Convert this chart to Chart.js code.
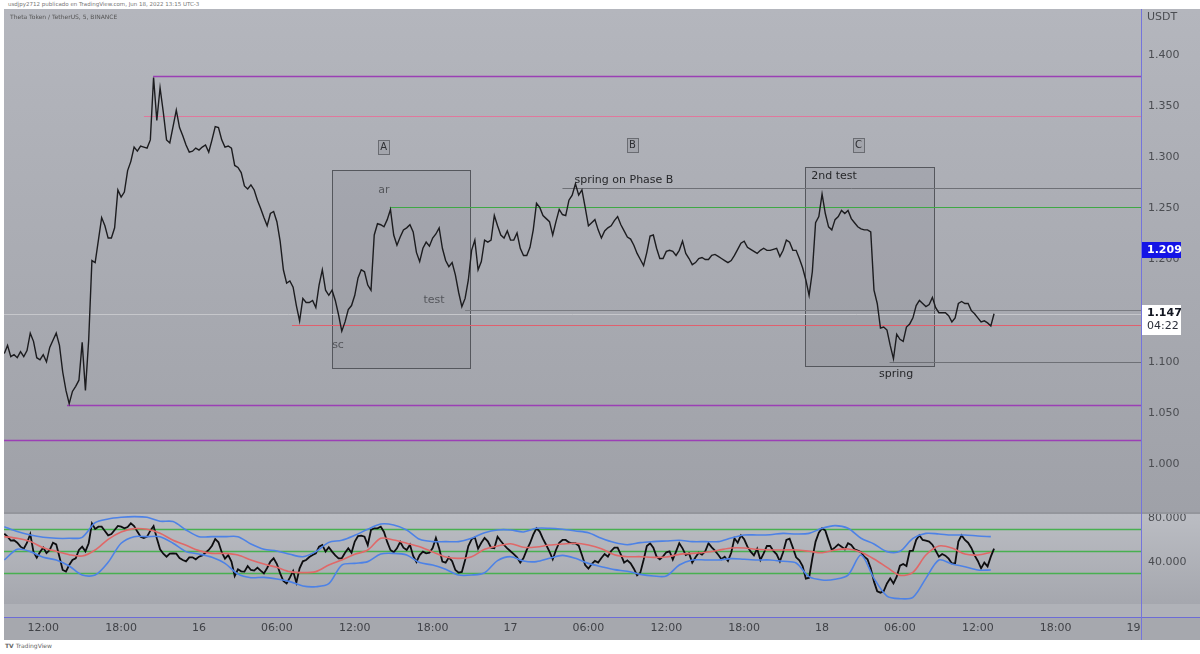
<!DOCTYPE html>
<html>
<head>
<meta charset="utf-8">
<script src="https://cdn.jsdelivr.net/npm/chart.js@4.4.1/dist/chart.umd.min.js"></script>
<style>
  body { margin: 0; width: 1200px; height: 654px; overflow: hidden; background: #fff; font-family: "DejaVu Sans", sans-serif; }
  .abs { position: absolute; }
  #top { left: 8px; top: 1px; font-size: 5.5px; color: #777; }
  #mainBg { left: 4px; top: 9px; width: 1196px; height: 503px; background: linear-gradient(#b4b6bd, #9fa1a8); }
  #sep { left: 4px; top: 512px; width: 1196px; height: 2px; background: #94969c; }
  #rsiBg { left: 4px; top: 514px; width: 1196px; height: 90px; background: linear-gradient(#bbbdc3, #a5a7ae); }
  #strip { left: 4px; top: 604px; width: 1196px; height: 13px; background: #b0b2b8; }
  #timeBg { left: 4px; top: 617px; width: 1196px; height: 23px; background: #a6a8ae; border-top: 1px solid #6c6cd6; box-sizing: border-box; }
  #vline { left: 1141px; top: 9px; width: 1px; height: 631px; background: #7474dc; }
  #symbol { left: 10px; top: 13px; font-size: 6px; color: #555; }
  #usdt { left: 1147px; top: 10px; font-size: 11px; color: #4b4d52; }
  #logo { left: 5px; top: 642px; font-size: 6px; color: #666; }
  canvas { position: absolute; }
</style>
</head>
<body>
<div id="top" class="abs">usdjpy2712 publicado en TradingView.com, Jun 18, 2022 13:15 UTC-3</div>
<div id="mainBg" class="abs"></div>
<div id="sep" class="abs"></div>
<div id="rsiBg" class="abs"></div>
<div id="strip" class="abs"></div>
<div id="timeBg" class="abs"></div>
<canvas id="main" width="1196" height="503" style="left:4px;top:9px"></canvas>
<canvas id="rsi" width="1196" height="126" style="left:4px;top:514px"></canvas>
<div id="vline" class="abs"></div>
<div id="symbol" class="abs">Theta Token / TetherUS, 5, BINANCE</div>
<div id="usdt" class="abs">USDT</div>
<div id="logo" class="abs"><b>TV</b> TradingView</div>
<script>
// hours counted from Jun 15 00:00, one value every 15 minutes from 09:00
const startHour = 9
const stepHours = 0.25

const closes = [
  1.108, 1.116, 1.105, 1.107, 1.104, 1.110, 1.105, 1.111, 1.128, 1.120,
  1.104, 1.102, 1.107, 1.100, 1.114, 1.121, 1.128, 1.116, 1.090, 1.072,
  1.059, 1.071, 1.076, 1.082, 1.119, 1.072, 1.121, 1.199, 1.197, 1.219,
  1.241, 1.233, 1.221, 1.221, 1.231, 1.268, 1.261, 1.266, 1.287, 1.296,
  1.310, 1.306, 1.311, 1.310, 1.309, 1.317, 1.378, 1.336, 1.368, 1.344,
  1.317, 1.314, 1.330, 1.346, 1.329, 1.321, 1.312, 1.305, 1.306, 1.309,
  1.307, 1.310, 1.312, 1.305, 1.317, 1.330, 1.329, 1.317, 1.310, 1.311,
  1.309, 1.292, 1.290, 1.285, 1.272, 1.269, 1.273, 1.268, 1.258, 1.250,
  1.241, 1.233, 1.245, 1.247, 1.237, 1.218, 1.190, 1.177, 1.179, 1.173,
  1.155, 1.140, 1.162, 1.158, 1.158, 1.160, 1.153, 1.175, 1.190, 1.170,
  1.165, 1.170, 1.160, 1.146, 1.130, 1.139, 1.151, 1.155, 1.165, 1.182,
  1.190, 1.188, 1.175, 1.170, 1.224, 1.235, 1.234, 1.232, 1.239, 1.249,
  1.224, 1.214, 1.222, 1.229, 1.231, 1.234, 1.227, 1.207, 1.198, 1.211,
  1.217, 1.213, 1.221, 1.225, 1.231, 1.211, 1.199, 1.193, 1.197, 1.185,
  1.168, 1.154, 1.162, 1.180, 1.209, 1.219, 1.190, 1.198, 1.219, 1.217,
  1.219, 1.243, 1.233, 1.224, 1.221, 1.228, 1.219, 1.219, 1.226, 1.211,
  1.204, 1.204, 1.212, 1.229, 1.255, 1.251, 1.243, 1.240, 1.237, 1.224,
  1.237, 1.249, 1.244, 1.243, 1.258, 1.263, 1.274, 1.263, 1.268, 1.251,
  1.233, 1.236, 1.239, 1.229, 1.221, 1.228, 1.231, 1.233, 1.238, 1.242,
  1.234, 1.228, 1.222, 1.220, 1.214, 1.206, 1.200, 1.194, 1.207, 1.223,
  1.224, 1.211, 1.201, 1.201, 1.208, 1.209, 1.208, 1.204, 1.209, 1.218,
  1.206, 1.201, 1.195, 1.197, 1.201, 1.202, 1.200, 1.200, 1.204, 1.205,
  1.203, 1.201, 1.199, 1.197, 1.199, 1.204, 1.210, 1.216, 1.218, 1.212,
  1.210, 1.208, 1.206, 1.209, 1.211, 1.209, 1.209, 1.210, 1.211, 1.203,
  1.209, 1.219, 1.217, 1.209, 1.209, 1.201, 1.192, 1.180, 1.165, 1.188,
  1.236, 1.242, 1.264, 1.245, 1.232, 1.229, 1.239, 1.242, 1.248, 1.245,
  1.248, 1.240, 1.236, 1.232, 1.230, 1.229, 1.229, 1.227, 1.170, 1.157,
  1.133, 1.134, 1.131, 1.116, 1.103, 1.127, 1.122, 1.120, 1.134, 1.137,
  1.143, 1.155, 1.160, 1.157, 1.154, 1.156, 1.163, 1.153, 1.148, 1.148,
  1.148, 1.145, 1.139, 1.143, 1.157, 1.159, 1.157, 1.157, 1.150, 1.147,
  1.143, 1.139, 1.140, 1.138, 1.135, 1.147
]

const rsi = [
  65.7, 63.0, 59.4, 59.7, 57.5, 53.9, 52.1, 57.5, 65.4, 49.1,
  43.9, 49.1, 53.0, 48.1, 50.9, 57.5, 56.0, 44.5, 32.7, 31.2,
  37.2, 41.8, 43.3, 50.9, 53.9, 49.7, 57.0, 75.1, 70.0, 72.1,
  72.1, 68.2, 64.2, 65.4, 69.1, 72.7, 72.1, 70.6, 71.8, 75.1,
  72.7, 67.6, 63.0, 61.8, 63.0, 68.5, 72.7, 61.5, 51.5, 47.5,
  44.8, 47.5, 47.8, 47.5, 43.6, 41.8, 40.6, 44.2, 44.2, 42.4,
  44.8, 46.0, 48.4, 50.9, 54.8, 60.9, 57.9, 48.8, 43.0, 46.3,
  40.3, 27.2, 33.3, 31.5, 31.2, 36.3, 32.7, 32.1, 34.8, 32.1,
  29.6, 34.5, 40.3, 43.3, 38.1, 29.6, 22.7, 20.5, 25.7, 31.8,
  21.2, 34.2, 40.6, 41.8, 44.5, 46.3, 47.8, 53.9, 55.4, 49.4,
  53.3, 49.4, 46.0, 43.3, 43.3, 48.4, 52.4, 48.4, 58.5, 63.6,
  63.9, 63.0, 55.4, 69.1, 70.6, 70.6, 72.1, 67.3, 58.2, 50.9,
  48.8, 52.4, 58.2, 53.0, 50.9, 55.7, 45.4, 40.0, 46.3, 49.4,
  47.8, 48.4, 52.7, 61.8, 52.4, 40.3, 39.4, 44.2, 40.6, 32.7,
  30.3, 30.9, 41.8, 54.5, 60.6, 62.4, 52.1, 57.5, 61.8, 58.8,
  53.0, 52.4, 63.0, 59.1, 55.4, 52.4, 49.7, 47.2, 44.2, 39.4,
  43.6, 50.9, 57.0, 64.8, 70.6, 67.6, 60.9, 55.4, 49.4, 42.4,
  50.9, 57.5, 60.0, 60.0, 57.8, 57.0, 57.0, 54.8, 46.3, 37.2,
  33.9, 38.1, 40.9, 39.4, 43.6, 47.2, 44.8, 50.0, 53.0, 53.0,
  46.6, 39.4, 41.5, 38.7, 33.9, 27.8, 30.3, 41.8, 54.5, 57.0,
  53.0, 44.8, 42.4, 45.1, 48.8, 49.7, 42.1, 49.4, 57.0, 52.4,
  46.3, 47.8, 39.4, 44.2, 48.4, 46.6, 49.7, 57.0, 53.3, 50.3,
  46.6, 42.4, 44.8, 40.9, 48.4, 61.5, 57.5, 64.2, 60.6, 53.9,
  49.4, 46.0, 52.1, 41.8, 47.8, 54.5, 54.5, 50.0, 46.9, 40.6,
  48.8, 60.0, 61.2, 53.0, 44.2, 41.5, 36.3, 24.8, 25.7, 43.3,
  58.5, 66.6, 70.6, 68.5, 59.4, 50.9, 53.3, 56.0, 53.9, 51.5,
  57.0, 55.4, 51.5, 50.3, 48.8, 44.8, 42.4, 34.2, 22.1, 13.3,
  12.1, 13.6, 20.5, 25.1, 20.5, 26.6, 36.6, 38.1, 36.3, 50.0,
  50.3, 60.0, 64.2, 60.0, 59.4, 58.5, 55.7, 50.3, 44.8, 47.2,
  45.7, 43.0, 38.7, 38.7, 58.5, 64.2, 60.0, 57.5, 52.7, 46.0,
  40.9, 34.2, 39.4, 36.0, 44.8, 52.1
]

// hourly values of the RSI average and its bands, from 09:00 Jun 15
const rsiMa = [
  63.0, 61.5, 58.5, 53.0, 49.7, 46.6, 45.4, 50.9, 60.6, 67.3,
  70.3, 69.7, 66.0, 59.7, 55.1, 50.3, 47.8, 47.8, 46.3, 41.8,
  38.1, 35.1, 31.2, 30.3, 31.2, 37.2, 41.8, 46.9, 50.9, 61.5,
  60.0, 57.0, 53.9, 49.1, 44.5, 43.3, 44.8, 51.5, 54.5, 56.6,
  53.3, 53.6, 55.4, 56.3, 57.0, 55.4, 52.1, 46.6, 44.8, 44.8,
  44.2, 44.5, 46.9, 47.8, 48.8, 50.6, 52.7, 52.7, 51.5, 50.9,
  50.9, 50.9, 49.7, 48.4, 50.9, 51.8, 48.8, 42.7, 35.1, 27.8,
  30.6, 46.3, 54.5, 52.7, 47.2, 46.3, 48.8
]
const bandUpper = [
  72.1, 67.6, 64.5, 62.4, 61.5, 61.5, 62.4, 75.7, 79.1, 80.6,
  81.2, 80.6, 77.0, 76.7, 69.1, 63.0, 63.0, 63.0, 63.0, 56.3,
  51.5, 50.0, 47.0, 44.8, 49.4, 57.8, 59.7, 64.2, 69.7, 74.5,
  73.6, 69.1, 60.6, 58.5, 58.5, 58.5, 61.5, 66.6, 69.1, 69.1,
  67.3, 70.6, 70.6, 69.7, 68.2, 66.6, 61.5, 57.6, 55.7, 57.6,
  58.5, 59.1, 59.7, 58.5, 58.5, 58.5, 61.8, 64.5, 64.5, 64.8,
  66.0, 65.4, 66.0, 70.6, 73.0, 70.6, 61.5, 56.3, 49.4, 49.7,
  61.5, 66.0, 65.4, 64.5, 64.5, 63.6, 63.0
]
const bandLower = [
  41.8, 51.5, 49.4, 44.2, 41.8, 36.3, 28.1, 28.1, 39.7, 57.0,
  63.0, 63.0, 63.0, 57.0, 49.4, 47.2, 44.2, 38.7, 29.0, 25.7,
  26.0, 24.5, 22.1, 18.1, 17.5, 20.2, 37.2, 38.7, 40.3, 47.2,
  47.8, 46.3, 39.4, 37.2, 33.3, 28.1, 28.1, 30.2, 41.2, 44.8,
  40.9, 40.3, 43.3, 46.0, 43.3, 38.7, 35.7, 33.0, 31.5, 28.7,
  27.2, 27.2, 37.2, 41.8, 41.8, 41.8, 43.0, 42.4, 41.8, 41.8,
  40.6, 39.1, 26.6, 23.6, 24.2, 28.1, 46.3, 25.1, 9.0, 6.6,
  7.8, 25.1, 41.8, 38.1, 35.7, 32.7, 32.7
]

const priceTicks = [1.000, 1.050, 1.100, 1.150, 1.200, 1.250, 1.300, 1.350, 1.400]
const rsiTicks = [40, 80]
const rsiLevels = [70, 50, 30]
const timeTickHours = [12, 18, 24, 30, 36, 42, 48, 54, 60, 66, 72, 78, 84, 90, 96]
const timeTickLabels = ['12:00', '18:00', '16', '06:00', '12:00', '18:00', '17', '06:00', '12:00', '18:00', '18', '06:00', '12:00', '18:00', '19']
const markedPrice = 1.209
const countdown = '04:22'

const xMin = 8.977
const xMax = 96.57

// drawings on the price pane (hours, prices)
const levels = [
  { p: 1.3795, from: 20.46, color: '#9b3fb5', w: 1.6 },
  { p: 1.340, from: 19.76, color: '#e0789c', w: 1.2 },
  { p: 1.270, from: 52.0, color: '#6e7076', w: 1 },
  { p: 1.2514, from: 38.7, color: '#3fa845', w: 1.2 },
  { p: 1.151, from: 44.5, color: '#7a7c82', w: 1 },
  { p: 1.136, from: 31.16, color: '#e0606e', w: 1.2 },
  { p: 1.100, from: 77.2, color: '#6e7076', w: 1 },
  { p: 1.0577, from: 13.83, color: '#9b3fb5', w: 1.6 },
  { p: 1.0235, from: xMin, color: '#9b3fb5', w: 1.6 }
]
const boxes = [
  { h1: 34.25, h2: 44.88, p1: 1.2875, p2: 1.0939 },
  { h1: 70.69, h2: 80.63, p1: 1.2905, p2: 1.0958 }
]
const phaseTags = [
  { t: 'A', h: 38.18, p: 1.310 },
  { t: 'B', h: 57.36, p: 1.312 },
  { t: 'C', h: 74.77, p: 1.312 }
]
const notes = [
  { t: 'ar', h: 38.25, p: 1.268, c: '#55575c' },
  { t: 'sc', h: 34.71, p: 1.116, c: '#55575c' },
  { t: 'test', h: 42.10, p: 1.160, c: '#55575c' },
  { t: 'spring on Phase B', h: 56.74, p: 1.278, c: '#26272a' },
  { t: '2nd test', h: 72.92, p: 1.282, c: '#26272a' },
  { t: 'spring', h: 77.70, p: 1.088, c: '#26272a' }
]

const priceTimes = closes.map((c, i) => startHour + i * stepHours)
const hourTimes = rsiMa.map((v, i) => startHour + i)
const pts = (times, vals) => vals.map((v, i) => ({ x: times[i], y: v }))

const font11 = { family: 'DejaVu Sans', size: 11 }

const drawings = {
  id: 'drawings',
  beforeDatasetsDraw(chart) {
    const { ctx, chartArea: a, scales: { x, y } } = chart
    ctx.save()
    boxes.forEach(b => {
      const x1 = Math.round(x.getPixelForValue(b.h1)) + 0.5
      const x2 = Math.round(x.getPixelForValue(b.h2)) + 0.5
      const y1 = Math.round(y.getPixelForValue(b.p1)) + 0.5
      const y2 = Math.round(y.getPixelForValue(b.p2)) + 0.5
      ctx.fillStyle = 'rgba(60,62,72,0.07)'
      ctx.fillRect(x1, y1, x2 - x1, y2 - y1)
      ctx.strokeStyle = '#55575d'
      ctx.lineWidth = 1
      ctx.strokeRect(x1, y1, x2 - x1, y2 - y1)
    })
    // last price line
    const lastY = Math.round(y.getPixelForValue(closes[closes.length - 1])) + 0.5
    ctx.strokeStyle = '#c6c7cb'
    ctx.lineWidth = 1
    ctx.beginPath(); ctx.moveTo(a.left, lastY); ctx.lineTo(a.right, lastY); ctx.stroke()
    levels.forEach(l => {
      const yy = Math.round(y.getPixelForValue(l.p)) + 0.5
      ctx.strokeStyle = l.color
      ctx.lineWidth = l.w
      ctx.beginPath(); ctx.moveTo(x.getPixelForValue(l.from), yy); ctx.lineTo(a.right, yy); ctx.stroke()
    })
    ctx.restore()
  },
  afterDatasetsDraw(chart) {
    const { ctx, chartArea: a, scales: { x, y } } = chart
    ctx.save()
    ctx.textAlign = 'center'
    ctx.textBaseline = 'middle'
    ctx.font = '10px "DejaVu Sans"'
    phaseTags.forEach(g => {
      const cx = x.getPixelForValue(g.h), cy = y.getPixelForValue(g.p)
      ctx.fillStyle = 'rgba(90,92,100,0.12)'
      ctx.fillRect(Math.round(cx - 5) + 0.5, Math.round(cy - 7) + 0.5, 11, 14)
      ctx.strokeStyle = '#6a6c72'
      ctx.lineWidth = 1
      ctx.strokeRect(Math.round(cx - 5) + 0.5, Math.round(cy - 7) + 0.5, 11, 14)
      ctx.fillStyle = '#2e2f33'
      ctx.fillText(g.t, cx + 0.5, cy + 0.5)
    })
    ctx.font = '11px "DejaVu Sans"'
    notes.forEach(n => {
      ctx.fillStyle = n.c
      ctx.fillText(n.t, x.getPixelForValue(n.h), y.getPixelForValue(n.p))
    })
    // value labels on the price scale
    const by = y.getPixelForValue(markedPrice)
    ctx.fillStyle = '#1414e6'
    ctx.fillRect(a.right, Math.round(by - 8), 40, 16)
    ctx.fillStyle = '#ffffff'
    ctx.font = 'bold 11px "DejaVu Sans"'
    ctx.textAlign = 'left'
    ctx.fillText(markedPrice.toFixed(3), a.right + 6, by)
    const last = closes[closes.length - 1]
    const ly = y.getPixelForValue(last)
    ctx.fillStyle = '#ffffff'
    ctx.fillRect(a.right, Math.round(ly - 9), 40, 30)
    ctx.fillStyle = '#131722'
    ctx.fillText(last.toFixed(3), a.right + 6, ly - 1)
    ctx.font = '11px "DejaVu Sans"'
    ctx.fillStyle = '#2a2e39'
    ctx.fillText(countdown, a.right + 6, ly + 12)
    ctx.restore()
  }
}

const rsiLines = {
  id: 'rsiLines',
  beforeDatasetsDraw(chart) {
    const { ctx, chartArea: a, scales: { y } } = chart
    ctx.save()
    ctx.strokeStyle = '#48b050'
    ctx.lineWidth = 1.4
    rsiLevels.forEach(v => {
      const yy = Math.round(y.getPixelForValue(v)) + 0.5
      ctx.beginPath(); ctx.moveTo(a.left, yy); ctx.lineTo(a.right, yy); ctx.stroke()
    })
    ctx.restore()
  }
}

// the scale padding for end labels would shrink the panes, so it is cleared
const rightAxis = (min, max, tickList, fmt) => ({
  position: 'right', min: min, max: max,
  grid: { display: false, drawTicks: false }, border: { display: false },
  afterFit: s => { s.width = 59; s.paddingTop = 0; s.paddingBottom = 0 },
  afterBuildTicks: s => { s.ticks = tickList.map(v => ({ value: v })) },
  ticks: { padding: 7, color: '#4b4d52', font: font11, callback: fmt }
})

new Chart(document.getElementById('main'), {
  type: 'line',
  data: {
    datasets: [{
      data: pts(priceTimes, closes),
      borderColor: '#1c1c1f', borderWidth: 1.4, pointRadius: 0, tension: 0
    }]
  },
  options: {
    responsive: false, animation: false,
    layout: { padding: 0, autoPadding: false },
    plugins: { legend: { display: false }, tooltip: { enabled: false } },
    scales: {
      x: { type: 'linear', min: xMin, max: xMax, display: false },
      y: rightAxis(0.9531, 1.445, priceTicks, v => v.toFixed(3))
    }
  },
  plugins: [drawings]
})

new Chart(document.getElementById('rsi'), {
  type: 'line',
  data: {
    datasets: [
      { data: pts(hourTimes, bandUpper), borderColor: '#4d82e6', borderWidth: 1.6, pointRadius: 0, tension: 0.3 },
      { data: pts(hourTimes, bandLower), borderColor: '#4d82e6', borderWidth: 1.6, pointRadius: 0, tension: 0.3 },
      { data: pts(hourTimes, rsiMa), borderColor: '#e06868', borderWidth: 1.6, pointRadius: 0, tension: 0.3 },
      { data: pts(priceTimes, rsi), borderColor: '#0d0d0f', borderWidth: 1.8, pointRadius: 0, tension: 0 }
    ]
  },
  options: {
    responsive: false, animation: false,
    layout: { padding: 0, autoPadding: false },
    plugins: { legend: { display: false }, tooltip: { enabled: false } },
    scales: {
      x: {
        type: 'linear', min: xMin, max: xMax,
        grid: { display: false, drawTicks: false }, border: { display: false },
        afterFit: s => { s.height = 35.7; s.paddingLeft = 0; s.paddingRight = 0 },
        afterBuildTicks: s => { s.ticks = timeTickHours.map(v => ({ value: v })) },
        ticks: { padding: 17, autoSkip: false, maxRotation: 0, color: '#404247', font: font11,
          callback: (v, i) => timeTickLabels[i] }
      },
      y: rightAxis(1.5, 83.6, rsiTicks, v => v.toFixed(3))
    }
  },
  plugins: [rsiLines]
})
</script>
</body>
</html>
